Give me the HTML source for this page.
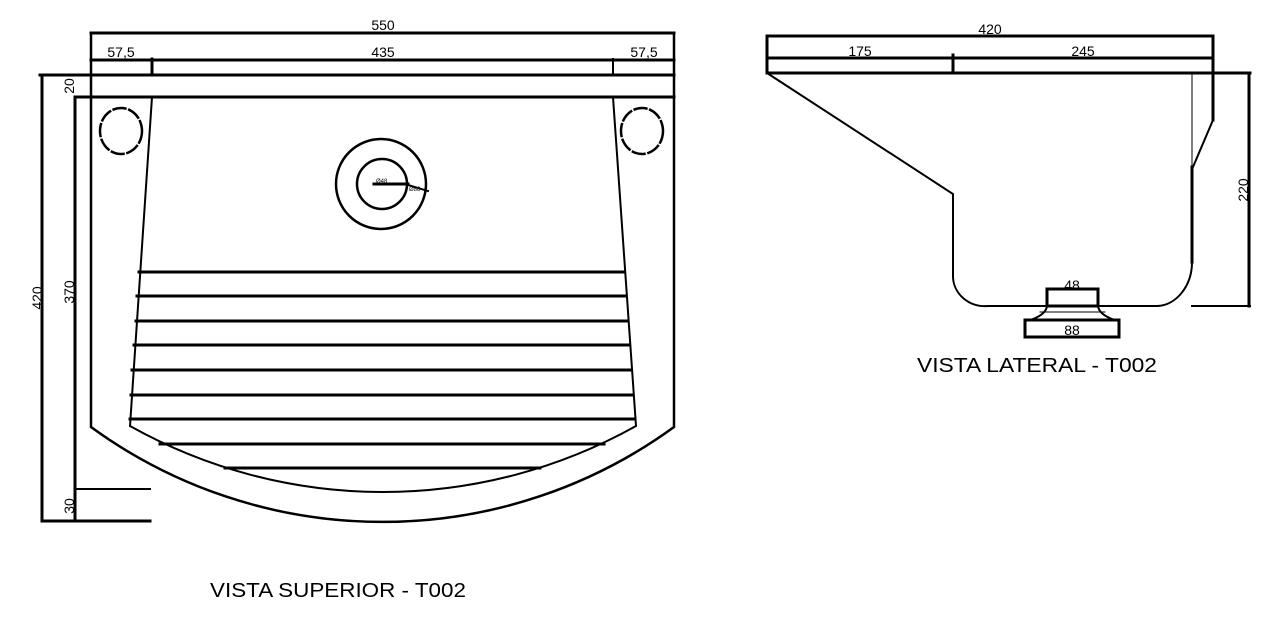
<!DOCTYPE html>
<html><head><meta charset="utf-8"><style>
html,body{margin:0;padding:0;background:#fff;width:1284px;height:628px;overflow:hidden}
svg{display:block}
text{font-family:"Liberation Sans",Arial,sans-serif;fill:#000}
</style></head><body>
<svg width="1284" height="628" viewBox="0 0 1284 628" xmlns="http://www.w3.org/2000/svg">
<g stroke="#000" fill="none" stroke-linecap="square">
<line x1="91" y1="33" x2="674" y2="33" stroke-width="3"/>
<line x1="91" y1="60" x2="674" y2="60" stroke-width="3"/>
<line x1="152" y1="59" x2="152" y2="75" stroke-width="3"/>
<line x1="613" y1="59" x2="613" y2="75" stroke-width="2"/>
<line x1="40" y1="75" x2="674" y2="75" stroke-width="3"/>
<line x1="75" y1="97" x2="674" y2="97" stroke-width="3"/>
<line x1="42" y1="75" x2="42" y2="521" stroke-width="3"/>
<line x1="75" y1="97" x2="75" y2="521" stroke-width="3"/>
<line x1="75" y1="489" x2="150" y2="489" stroke-width="2"/>
<line x1="42" y1="521" x2="150" y2="521" stroke-width="3"/>
<path d="M91 33 L91 427 A495 495 0 0 0 674 427 L674 33" stroke-width="2.5"/>
<path d="M152 97 L130 426 A518 518 0 0 0 636 426 L613 97" stroke-width="2"/>
<g stroke-width="3">
<line x1="139" y1="272" x2="624" y2="272"/>
<line x1="137" y1="296" x2="626" y2="296"/>
<line x1="136" y1="321" x2="627" y2="321"/>
<line x1="134" y1="345" x2="629" y2="345"/>
<line x1="132" y1="370" x2="631" y2="370"/>
<line x1="131" y1="395" x2="633" y2="395"/>
<line x1="130" y1="419" x2="635" y2="419"/>
<line x1="160" y1="444" x2="604" y2="444"/>
<line x1="225" y1="468" x2="540" y2="468"/>
</g>
<ellipse cx="121" cy="131" rx="21" ry="23" stroke-width="2.5" stroke-dasharray="12 4"/>
<ellipse cx="642" cy="131" rx="21" ry="23" stroke-width="2.5" stroke-dasharray="12 4"/>
<circle cx="381" cy="184" r="45" stroke-width="2.5"/>
<circle cx="382" cy="184" r="25" stroke-width="2.5"/>
<line x1="374" y1="184" x2="408" y2="184" stroke-width="3"/>
<line x1="408" y1="185" x2="428" y2="191" stroke-width="2"/>
<line x1="767" y1="36" x2="1213" y2="36" stroke-width="3"/>
<line x1="767" y1="58" x2="1213" y2="58" stroke-width="3"/>
<line x1="767" y1="73" x2="1250" y2="73" stroke-width="3"/>
<line x1="767" y1="36" x2="767" y2="73" stroke-width="3"/>
<line x1="953" y1="55" x2="953" y2="73" stroke-width="3"/>
<line x1="1213" y1="36" x2="1213" y2="120" stroke-width="3"/>
<line x1="1213" y1="120" x2="1193" y2="167" stroke-width="2"/>
<line x1="1192" y1="73" x2="1192" y2="167" stroke-width="1"/>
<line x1="1192" y1="167" x2="1192" y2="262" stroke-width="3"/>
<path d="M767 73 L953 194 L953 277 A32 30 0 0 0 988 306 L1157 306 A36 44 0 0 0 1192 262" stroke-width="2"/>
<line x1="1249" y1="73" x2="1249" y2="306" stroke-width="3"/>
<line x1="1192" y1="306" x2="1250" y2="306" stroke-width="2"/>
<rect x="1047" y="289" width="51" height="17" stroke-width="3"/>
<path d="M1047 306 Q1046 314 1033 319 M1098 306 Q1099 314 1112 319" stroke-width="2"/>
<line x1="1040" y1="312" x2="1105" y2="312" stroke-width="1"/>
<rect x="1025" y="320" width="94" height="17" stroke-width="3"/>
</g>
<g font-size="14">
<text x="383" y="30" text-anchor="middle">550</text>
<text x="121" y="57" text-anchor="middle">57,5</text>
<text x="383" y="57" text-anchor="middle">435</text>
<text x="644" y="57" text-anchor="middle">57,5</text>
<text transform="translate(74,86) rotate(-90)" text-anchor="middle">20</text>
<text transform="translate(42,298) rotate(-90)" text-anchor="middle">420</text>
<text transform="translate(74,292) rotate(-90)" text-anchor="middle">370</text>
<text transform="translate(74,506) rotate(-90)" text-anchor="middle">30</text>
<text x="990" y="34" text-anchor="middle">420</text>
<text x="860" y="56" text-anchor="middle">175</text>
<text x="1083" y="56" text-anchor="middle">245</text>
<text transform="translate(1248,190) rotate(-90)" text-anchor="middle">220</text>
<text x="1072" y="290" text-anchor="middle">48</text>
<text x="1072" y="335" text-anchor="middle">88</text>
</g>
<text x="376" y="183" font-size="6">Ø48</text>
<text x="409" y="191" font-size="6">Ø88</text>
<text x="917" y="372" font-size="20" textLength="240" lengthAdjust="spacingAndGlyphs">VISTA LATERAL - T002</text>
<text x="210" y="597" font-size="20" textLength="256" lengthAdjust="spacingAndGlyphs">VISTA SUPERIOR - T002</text>
</svg>
</body></html>
